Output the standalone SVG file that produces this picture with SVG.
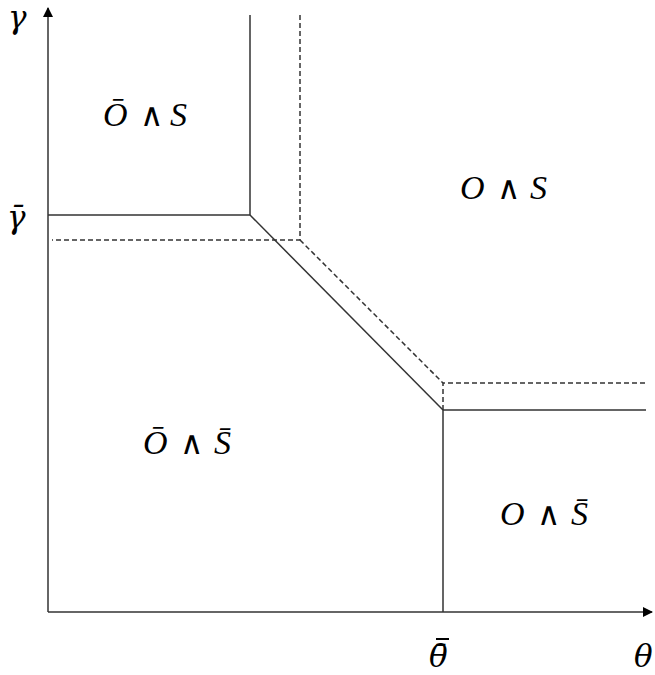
<svg xmlns="http://www.w3.org/2000/svg" width="655" height="675" viewBox="0 0 655 675">
<style>
.ax{stroke:#333;stroke-width:1.5;fill:none}
.s{stroke:#333;stroke-width:1.5;fill:none}
.d{stroke:#333;stroke-width:1.5;fill:none;stroke-dasharray:5,3}
.m{font-family:"Liberation Serif","DejaVu Serif",serif;font-style:italic;font-size:34px;fill:#000}
.g{font-family:"DejaVu Serif",serif;font-style:italic;font-size:31px;fill:#000}
.op{font-family:"DejaVu Serif",serif;font-style:normal;font-size:32px}
</style>
<defs>
<marker id="ah" markerWidth="10" markerHeight="10" refX="9" refY="5" orient="auto" markerUnits="userSpaceOnUse">
<path d="M0,0 L10,5 L0,10 Z" fill="#000"/>
</marker>
</defs>
<g id="axes">
<line class="ax" x1="48" y1="612" x2="48" y2="8" marker-end="url(#ah)"/>
<line class="ax" x1="48" y1="612" x2="652" y2="612" marker-end="url(#ah)"/>
</g>
<g id="connectors">
<polyline class="s" points="250,15 250,215 48,215"/>
<line class="s" x1="250" y1="215" x2="443" y2="410"/>
<polyline class="s" points="443,612 443,410 646,410"/>
<polyline class="d" points="300,15 300,240 52,240"/>
<line class="d" x1="300" y1="240" x2="443" y2="383"/>
<polyline class="d" points="443,410 443,383 646,383"/>
</g>
<g id="labels">
<text class="g" x="8" y="28">γ</text>
<text class="g" x="7" y="228">γ̄</text>
<text class="g" x="429" y="667">θ<tspan fill="none">̄</tspan></text>
<line x1="436" y1="639" x2="449" y2="639" stroke="#000" stroke-width="2"/>
<text class="g" x="634" y="667">θ</text>
</g>
<g id="region-notO-S">
<text class="m" y="126"><tspan x="103">Ō</tspan><tspan class="op" x="140">∧</tspan><tspan x="170">S</tspan></text>
</g>
<g id="region-O-S">
<text class="m" y="199"><tspan x="460">O</tspan><tspan class="op" x="497">∧</tspan><tspan x="530">S</tspan></text>
</g>
<g id="region-notO-notS">
<text class="m" y="454"><tspan x="143">Ō</tspan><tspan class="op" x="180">∧</tspan><tspan x="214">S̄</tspan></text>
</g>
<g id="region-O-notS">
<text class="m" y="525"><tspan x="500">O</tspan><tspan class="op" x="537">∧</tspan><tspan x="571">S̄</tspan></text>
</g>
</svg>
